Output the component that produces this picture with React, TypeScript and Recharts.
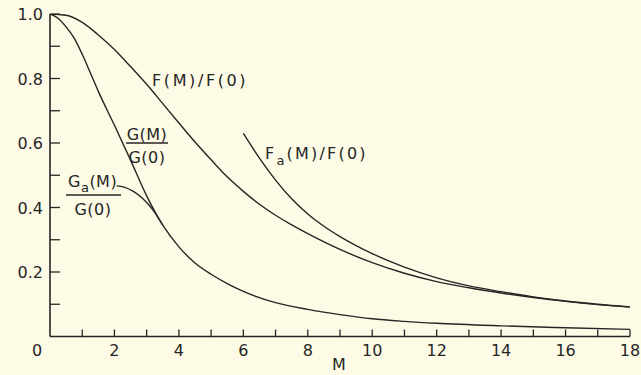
import React from 'react';
import { LineChart, Line, XAxis, YAxis } from 'recharts';

const W = 641;
const H = 375;
const ink = '#262626';
const paper = '#fdfbe6';
const font = '"DejaVu Sans", sans-serif';

// x axis ticks (M) and their labels
const xTickValues = [0, 1, 2, 3, 4, 5, 6, 7, 8, 9, 10, 11, 12, 13, 14, 15, 16, 17, 18];
const xTickLabels = ['0', '', '2', '', '4', '', '6', '', '8', '', '10', '', '12', '', '14', '', '16', '', '18'];

// y axis ticks and labels
const yTickValues = [0.1, 0.2, 0.3, 0.4, 0.5, 0.6, 0.7, 0.8, 0.9, 1.0];
const yTickLabels = ['', '0.2', '', '0.4', '', '0.6', '', '0.8', '', '1.0'];

// F(M)/F(0)
const fM = [0, 0.5, 1, 1.5, 2, 2.5, 3, 3.5, 4, 4.5, 5, 5.5, 6, 6.5, 7, 7.5, 8, 9, 10, 11, 12, 13, 14, 15, 16, 17, 18];
const fV = [1.0, 0.996, 0.974, 0.935, 0.89, 0.837, 0.782, 0.722, 0.662, 0.603, 0.548, 0.495, 0.45, 0.41, 0.376, 0.346, 0.319, 0.27, 0.229, 0.196, 0.17, 0.151, 0.135, 0.121, 0.109, 0.099, 0.091];

// Fa(M)/F(0)
const faM = [6.0, 6.5, 7.0, 7.5, 8, 8.5, 9, 9.5, 10, 11, 12, 13, 14, 15, 16, 17, 18];
const faV = [0.63, 0.553, 0.485, 0.427, 0.38, 0.342, 0.31, 0.282, 0.257, 0.215, 0.182, 0.157, 0.139, 0.123, 0.11, 0.1, 0.092];

// G(M)/G(0)
const gM = [0, 0.25, 0.5, 0.75, 1, 1.25, 1.5, 2, 2.5, 3, 3.5, 4, 4.5, 5, 5.5, 6, 7, 8, 9, 10, 11, 12, 14, 16, 18];
const gV = [1.0, 0.987, 0.96, 0.925, 0.875, 0.818, 0.76, 0.655, 0.547, 0.436, 0.345, 0.278, 0.228, 0.193, 0.164, 0.14, 0.105, 0.084, 0.068, 0.055, 0.047, 0.041, 0.033, 0.027, 0.022];

// Ga(M)/G(0)
const gaM = [2.07, 2.3, 2.6, 2.85, 3.05, 3.25, 3.5];
const gaV = [0.467, 0.463, 0.449, 0.43, 0.41, 0.385, 0.345];

const toData = (ms: number[], vs: number[]) => ms.map((m, i) => ({ m, v: vs[i] }));
const fData = toData(fM, fV);
const faData = toData(faM, faV);
const gData = toData(gM, gV);
const gaData = toData(gaM, gaV);

const XTick = (props: any) => {
  const { x, y, payload } = props;
  const idx = xTickValues.indexOf(payload.value);
  const label = xTickLabels[idx];
  const dx = payload.value === 0 ? -13 : 0;
  return (
    <g>
      {payload.value !== 0 && (
        <line x1={x} y1={y} x2={x} y2={y - 7} stroke={ink} strokeWidth={1.3} />
      )}
      {label && (
        <text x={x + dx} y={y + 19.5} textAnchor="middle" fontSize={16} fontFamily={font} fill={ink}>
          {label}
        </text>
      )}
    </g>
  );
};

const YTick = (props: any) => {
  const { x, y, payload } = props;
  const idx = yTickValues.indexOf(payload.value);
  const label = yTickLabels[idx];
  return (
    <g>
      <line x1={x} y1={y} x2={x + 10} y2={y} stroke={ink} strokeWidth={1.3} />
      {label && (
        <text x={x - 7} y={y + 6} textAnchor="end" fontSize={16} fontFamily={font} fill={ink}>
          {label}
        </text>
      )}
    </g>
  );
};

const txt = { fontFamily: font, fill: ink } as const;

export default function App() {
  return (
    <div style={{ position: 'absolute', left: 0, top: 0, width: W, height: H, background: paper }}>
      <LineChart width={W} height={H} margin={{ top: 14, right: 11, bottom: 0, left: 0 }}>
        <XAxis
          dataKey="m"
          type="number"
          domain={[0, 18]}
          ticks={xTickValues}
          interval={0}
          tickSize={0}
          tickMargin={0}
          tickLine={false}
          tick={<XTick />}
          axisLine={{ stroke: ink, strokeWidth: 1.6 }}
          height={38.5}
          allowDataOverflow
        />
        <YAxis
          type="number"
          domain={[0, 1]}
          ticks={yTickValues}
          interval={0}
          tickSize={0}
          tickMargin={0}
          tickLine={false}
          tick={<YTick />}
          axisLine={{ stroke: ink, strokeWidth: 1.6 }}
          width={50}
          allowDataOverflow
        />
        <Line data={fData} dataKey="v" type="monotone" stroke={ink} strokeWidth={1.4} dot={false} isAnimationActive={false} />
        <Line data={faData} dataKey="v" type="monotone" stroke={ink} strokeWidth={1.4} dot={false} isAnimationActive={false} />
        <Line data={gData} dataKey="v" type="monotone" stroke={ink} strokeWidth={1.4} dot={false} isAnimationActive={false} />
        <Line data={gaData} dataKey="v" type="monotone" stroke={ink} strokeWidth={1.4} dot={false} isAnimationActive={false} />
      </LineChart>
      <svg
        width={W}
        height={H}
        style={{ position: 'absolute', left: 0, top: 0, pointerEvents: 'none' }}
      >
        <text x={152} y={86} fontSize={16} letterSpacing={2.6} {...txt}>F(M)/F(0)</text>

        <text x={265} y={159} fontSize={16} letterSpacing={2.2} {...txt}>
          F<tspan dy={6} fontSize={13}>a</tspan>
          <tspan dy={-6}>(M)/F(0)</tspan>
        </text>

        <text x={147} y={139.5} fontSize={16} textAnchor="middle" letterSpacing={0.5} {...txt}>G(M)</text>
        <line x1={126} y1={143} x2={168} y2={143} stroke={ink} strokeWidth={1.4} />
        <text x={147} y={163} fontSize={16} textAnchor="middle" letterSpacing={0.5} {...txt}>G(0)</text>

        <text x={68} y={187} fontSize={16} letterSpacing={0.5} {...txt}>
          G<tspan dy={5} fontSize={13}>a</tspan>
          <tspan dy={-5}>(M)</tspan>
        </text>
        <line x1={66} y1={195} x2={121} y2={195} stroke={ink} strokeWidth={1.4} />
        <text x={93} y={215} fontSize={16} textAnchor="middle" letterSpacing={0.5} {...txt}>G(0)</text>

        <text x={339} y={370} fontSize={16} textAnchor="middle" {...txt}>M</text>
      </svg>
    </div>
  );
}
